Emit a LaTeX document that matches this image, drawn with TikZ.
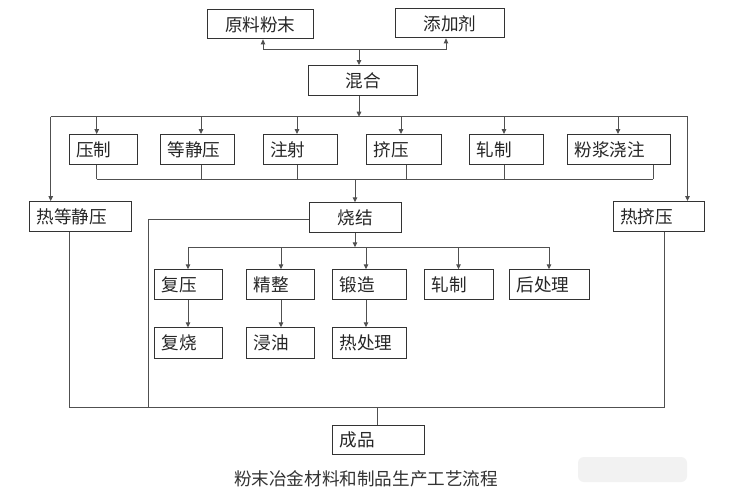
\documentclass[tikz,border=0pt]{standalone}
\usepackage{fontspec}
\newfontfamily\cjk{Noto Sans CJK SC}
\usetikzlibrary{arrows.meta}
\definecolor{lnc}{HTML}{505050}
\definecolor{bdc}{HTML}{333333}
\tikzset{
  box/.style={draw=bdc, line width=1.1pt, inner xsep=7pt, inner ysep=0pt, anchor=north west,
    font=\cjk\fontsize{17.6}{17.6}\selectfont, text=black!85},
  lnk/.style={draw=lnc, line width=0.9pt},
  arr/.style={lnk, -{Triangle[length=5pt,width=4.6pt]}},
}
\newcommand\bx[7]{%
  \pgfmathsetmacro\bw{#4-#2-14}%
  \pgfmathsetmacro\bh{#5-#3}%
  \node[box, text width=\bw pt, minimum height=\bh pt, align=#6] (#1) at (#2,#3) {#7};}
\begin{document}
\begin{tikzpicture}[x=1pt,y=-1pt]
\fill[white] (0,0) rectangle (729,491);
\useasboundingbox (0,0) rectangle (729,491);
% watermark blur
\fill[gray!10, rounded corners=6pt] (578,457) rectangle (687,482);
% boxes
\bx{raw}{206.5}{9.3}{313}{38.3}{center}{原料粉末}
\bx{add}{395}{8.3}{504}{37.3}{center}{添加剂}
\bx{mix}{308}{65}{417}{95}{center}{混合}
\bx{ya}{68.5}{134}{137}{164.3}{left}{压制}
\bx{djy}{160}{134}{234}{164.3}{left}{等静压}
\bx{zs}{262.5}{134}{337}{164.3}{left}{注射}
\bx{jy}{366}{134}{441}{164.3}{left}{挤压}
\bx{zz}{469}{134}{543}{164.3}{left}{轧制}
\bx{fj}{567}{134}{670}{164.3}{left}{粉浆浇注}
\bx{rdj}{29}{201}{131}{231}{left}{热等静压}
\bx{sj}{309}{202.3}{401}{232.3}{center}{烧结}
\bx{rjy}{612.5}{201}{704}{231}{left}{热挤压}
\bx{fy}{154}{269.3}{222}{299.3}{left}{复压}
\bx{jz}{246}{269.3}{314}{299.3}{left}{精整}
\bx{dz}{332}{269.3}{405.6}{299.3}{left}{锻造}
\bx{zz2}{424}{269.3}{493}{299.3}{left}{轧制}
\bx{hcl}{509}{269.3}{589}{299.3}{left}{后处理}
\bx{fs}{154}{327.3}{222}{357.7}{left}{复烧}
\bx{jy2}{246}{327.3}{314}{357.7}{left}{浸油}
\bx{rcl}{332}{327.3}{405.6}{357.7}{left}{热处理}
\bx{cp}{332}{425}{424}{454.3}{left}{成品}
% caption
\node[font=\cjk\fontsize{17.6}{17.6}\selectfont, text=black!80] (cap) at (366,479) {粉末冶金材料和制品生产工艺流程};
% top connectors
\coordinate (j1) at (359,49.3);
\coordinate (ra) at (263,49.3);
\coordinate (ad) at (446,49.3);
\draw[arr] (j1) -- (j1 |- mix.north);
\draw[arr] (j1) -| (ra |- raw.south);
\draw[arr] (j1) -| (ad |- add.south);
% distribution line
\coordinate (d) at (359,116.7);
\coordinate (dL) at (50.7,116.7);
\coordinate (dR) at (687.5,116.7);
\draw[arr] (d |- mix.south) -- (d);
\draw[lnk] (dL) -- (dR);
\draw[arr] (dL) -- (dL |- rdj.north);
\draw[arr] (dR) -- (dR |- rjy.north);
\foreach \n/\xx in {ya/96.7, djy/201, zs/297, jy/401, zz/504, fj/618}
  \draw[arr] (\xx,116.7) -- (\xx,116.7 |- \n.north);
% collector
\foreach \n/\xx in {ya/96.7, djy/201, zs/297, jy/406, zz/504, fj/653}
  \draw[lnk] (\xx,179.3 |- \n.south) -- (\xx,179.3);
\draw[lnk] (96.7,179.3) -- (653,179.3);
\coordinate (c) at (355,179.3);
\draw[arr] (c) -- (c |- sj.north);
% sintering outputs
\coordinate (s3) at (355,247.3);
\draw[arr] (s3 |- sj.south) -- (s3);
\draw[lnk] (188,247.3) -- (549,247.3);
\foreach \n/\xx in {fy/188, jz/281, dz/366, zz2/458.5, hcl/549}
  \draw[arr] (\xx,247.3) -- (\xx,247.3 |- \n.north);
\draw[arr] (188,0 |- fy.south) -- (188,0 |- fs.north);
\draw[arr] (281,0 |- jz.south) -- (281,0 |- jy2.north);
\draw[arr] (366,0 |- dz.south) -- (366,0 |- rcl.north);
% to product
\coordinate (b1) at (148.6,407.3);
\draw[lnk] ([yshift=-2pt]sj.west) -| (b1);
\draw[lnk] (69,0 |- rdj.south) -- (69,407.3) -- (664,407.3) -- (664,0 |- rjy.south);
\coordinate (b2) at (377.6,407.3);
\draw[lnk] (b2) -- (b2 |- cp.north);
\end{tikzpicture}
\end{document}
